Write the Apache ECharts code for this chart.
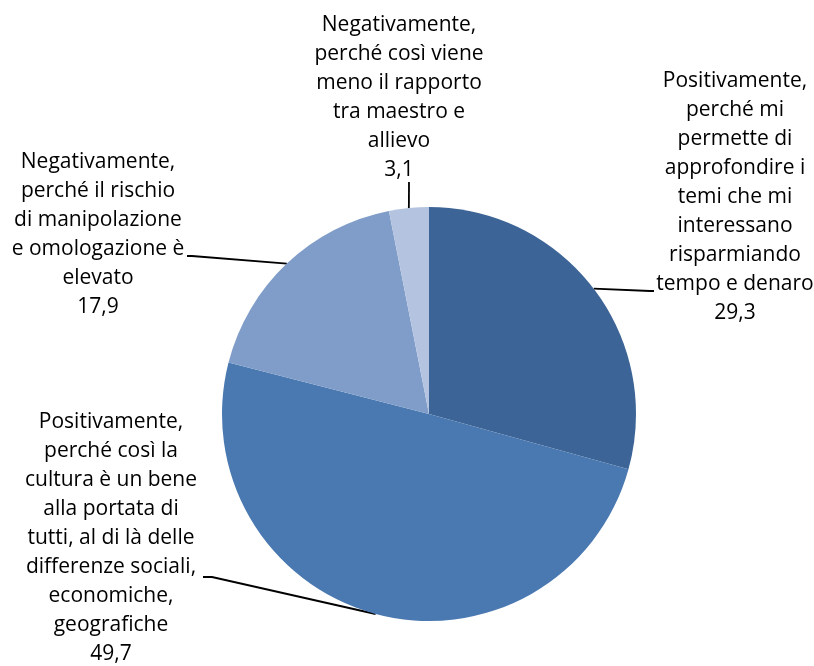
<!DOCTYPE html>
<html>
<head>
<meta charset="utf-8">
<script src="https://cdn.jsdelivr.net/npm/echarts@6/dist/echarts.min.js"></script>
<style>
    html, body { margin: 0; padding: 0; background: #fff; }
    #pie_chart { width: 814px; height: 666px; }
</style>
</head>
<body>
<div id="pie_chart"></div>
<script>
// dati del grafico
const categories = [
    'Positivamente,\nperché mi\npermette di\napprofondire i\ntemi che mi\ninteressano\nrisparmiando\ntempo e denaro',
    'Positivamente,\nperché così la\ncultura è un bene\nalla portata di\ntutti, al di là delle\ndifferenze sociali,\neconomiche,\ngeografiche',
    'Negativamente,\nperché il rischio\ndi manipolazione\ne omologazione è\nelevato',
    'Negativamente,\nperché così viene\nmeno il rapporto\ntra maestro e\nallievo'
]
const values = [29.3, 49.7, 17.9, 3.1]
const colors = ['#3d6496', '#4a79b1', '#7f9dc8', '#b4c4e0']

// posizione delle etichette (centro del blocco) e fine della linea guida
const labelSpots = [
    { x: 735, y: 197, line: [[650, 291], [654, 291]] },
    { x: 111, y: 538, line: [[212, 577], [203, 577]] },
    { x: 98, y: 235, line: [[192, 256], [187, 256]] },
    { x: 399, y: 98, line: [[409, 182]] }
]

let chartDom = document.getElementById('pie_chart')
let myChart = echarts.init(chartDom)
let option

option = {
    animation: false,
    series: [
        {
            type: 'pie',
            center: [429, 414],
            radius: 207,
            startAngle: 90,
            clockwise: true,
            avoidLabelOverlap: false,
            emphasis: { disabled: true },
            data: values.map((v, i) => ({
                value: v,
                name: categories[i],
                itemStyle: { color: colors[i] }
            })),
            label: {
                show: true,
                position: 'outside',
                color: '#000',
                fontFamily: 'Open Sans',
                fontSize: 21,
                lineHeight: 29,
                formatter: p => p.name + '\n' + String(p.value).replace('.', ',')
            },
            labelLine: {
                show: true,
                lineStyle: { color: '#000', width: 1.8 }
            },
            labelLayout: function (params) {
                const s = labelSpots[params.dataIndex]
                const p0 = params.labelLinePoints ? params.labelLinePoints[0] : null
                return {
                    x: s.x,
                    y: s.y,
                    align: 'center',
                    verticalAlign: 'middle',
                    labelLinePoints: p0 ? [p0].concat(s.line) : undefined
                }
            }
        }
    ]
}

option && myChart.setOption(option)
</script>
</body>
</html>
